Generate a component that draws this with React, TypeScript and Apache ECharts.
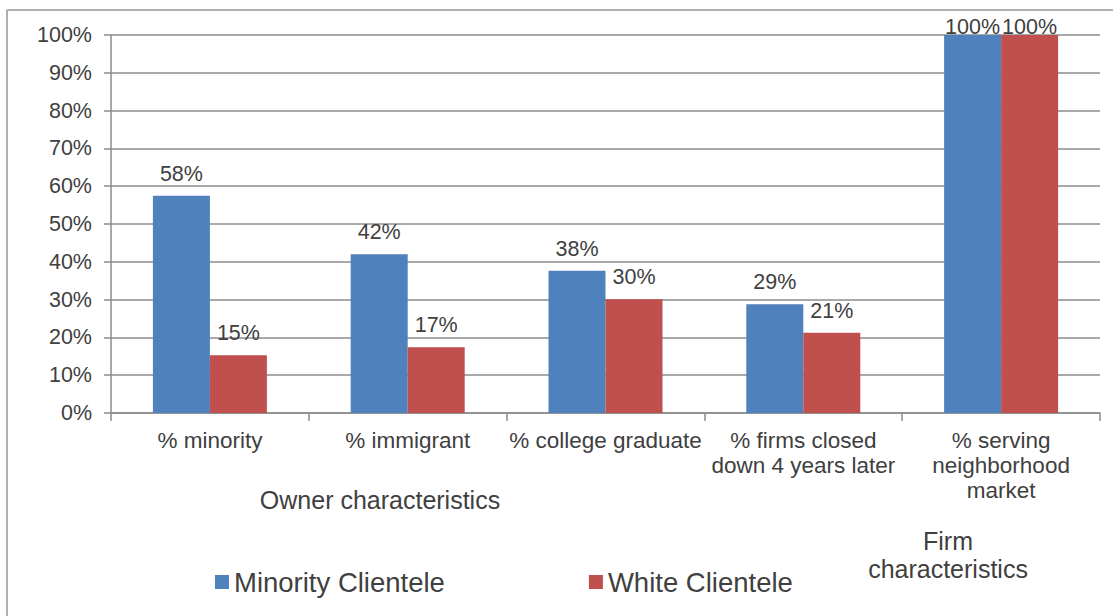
import React, { useEffect, useRef } from "react";
import * as echarts from "echarts";

const categories = [
  "% minority",
  "% immigrant",
  "% college graduate",
  "% firms closed\ndown 4 years later",
  "% serving\nneighborhood\nmarket",
];
const minorityClientele = [57.5, 42, 37.6, 28.8, 100];
const whiteClientele = [15.3, 17.4, 30.1, 21.2, 100];
const yTicks = [0, 10, 20, 30, 40, 50, 60, 70, 80, 90, 100];
const seriesNames = ["Minority Clientele", "White Clientele"];
const groupLabels = ["Owner characteristics", "Firm\ncharacteristics"];

const FONT = "'Liberation Sans', Arial, sans-serif";
const TXT = "#404040";

export default function App() {
  const ref = useRef<HTMLDivElement>(null);
  useEffect(() => {
    document.body.style.margin = "0";
    const chart = echarts.init(ref.current!, undefined, { renderer: "svg" });
    const mkData = (vals: number[]) =>
      vals.map((v) =>
        v >= 100
          ? { value: v, label: { distance: -3 } }
          : { value: v }
      );
    const label = {
      show: true,
      position: "top",
      distance: 11,
      fontSize: 21.5,
      fontFamily: FONT,
      color: TXT,
      formatter: (p: any) => Math.round(p.value) + "%",
    };
    chart.setOption({
      animation: false,
      backgroundColor: "#ffffff",
      textStyle: { fontFamily: FONT },
      grid: { left: 111, right: 17, top: 35, bottom: 203, containLabel: false },
      legend: {
        data: seriesNames,
        left: 215,
        top: 568,
        padding: 0,
        itemWidth: 14,
        itemHeight: 14,
        itemGap: 144,
        icon: "rect",
        textStyle: { fontSize: 27.5, color: TXT, fontFamily: FONT },
      },
      xAxis: {
        type: "category",
        data: categories,
        axisLine: { show: true, lineStyle: { color: "#8c8c8c", width: 1.5 } },
        axisTick: { show: true, length: 8, alignWithLabel: false, lineStyle: { color: "#8c8c8c", width: 1.5 } },
        axisLabel: {
          interval: 0,
          fontSize: 22.5,
          lineHeight: 25,
          margin: 15,
          color: TXT,
          fontFamily: FONT,
        },
      },
      yAxis: {
        type: "value",
        min: yTicks[0],
        max: yTicks[yTicks.length - 1],
        interval: 10,
        axisLine: { show: true, lineStyle: { color: "#8c8c8c", width: 1.5 } },
        axisTick: { show: true, length: 7, lineStyle: { color: "#8c8c8c", width: 1.5 } },
        splitLine: { show: true, lineStyle: { color: "#8c8c8c", width: 1.5 } },
        axisLabel: {
          formatter: (v: number) => v + "%",
          fontSize: 21.5,
          margin: 19,
          color: TXT,
          fontFamily: FONT,
        },
      },
      series: [
        {
          name: seriesNames[0],
          type: "bar",
          data: mkData(minorityClientele),
          barWidth: 57,
          barGap: "0%",
          itemStyle: { color: "#4F81BD" },
          label,
        },
        {
          name: seriesNames[1],
          type: "bar",
          data: mkData(whiteClientele),
          barWidth: 57,
          barGap: "0%",
          itemStyle: { color: "#C0504D" },
          label,
        },
      ],
      graphic: [
        { type: "line", shape: { x1: 7, y1: 10, x2: 1113, y2: 10 }, style: { stroke: "#b0b0b0", lineWidth: 2 } },
        { type: "line", shape: { x1: 7, y1: 10, x2: 7, y2: 616 }, style: { stroke: "#b0b0b0", lineWidth: 2 } },
        {
          type: "text",
          x: 380,
          y: 500,
          style: {
            text: groupLabels[0],
            fontSize: 25,
            fontFamily: FONT,
            fill: TXT,
            align: "center",
            verticalAlign: "middle",
          },
        },
        {
          type: "text",
          x: 948,
          y: 555,
          style: {
            text: groupLabels[1],
            fontSize: 25,
            lineHeight: 28,
            fontFamily: FONT,
            fill: TXT,
            align: "center",
            verticalAlign: "middle",
          },
        },
      ],
    });
    return () => chart.dispose();
  }, []);
  return <div ref={ref} style={{ width: 1117, height: 616 }} />;
}
